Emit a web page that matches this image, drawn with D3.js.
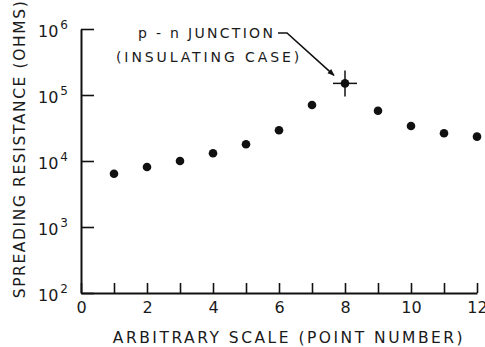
<!DOCTYPE html>
<html>
<head>
<meta charset="utf-8">
<script src="https://cdn.jsdelivr.net/npm/d3@7"></script>
<style>
  body { margin: 0; background: #fff; }
  text { font-family: "DejaVu Sans", sans-serif; fill: #1a1a1a; }
</style>
</head>
<body>
<script>
var width = 485, height = 347;

// du lieu doc tu hinh
var points = [1, 2, 3, 4, 5, 6, 7, 8, 9, 10, 11, 12];
var resistance = [6400, 8100, 10000, 13100, 17900, 29200, 70500, 150000, 57800, 33900, 26300, 23400];
var yTicks = [1e2, 1e3, 1e4, 1e5, 1e6];
var yExp = ["2", "3", "4", "5", "6"];
var xTicks = [0, 1, 2, 3, 4, 5, 6, 7, 8, 9, 10, 11, 12];
var junctionIndex = 7; // diem so 8

var svg = d3.select("body").append("svg")
    .attr("width", width)
    .attr("height", height);

var x = d3.scaleLinear().domain([0, 12]).range([81, 477]);
var y = d3.scaleLog().domain([1e2, 1e6]).range([293, 29]);

// truc y
var yAxis = svg.append("g")
    .attr("transform", "translate(81,0)")
    .call(d3.axisLeft(y).tickValues(yTicks).tickSizeInner(-13).tickSizeOuter(0).tickFormat(""));
yAxis.select(".domain").attr("stroke", "#111").attr("stroke-width", 2);
yAxis.selectAll(".tick line").attr("stroke", "#111").attr("stroke-width", 1.6);

yTicks.forEach(function(v, i) {
    var t = svg.append("text")
        .attr("x", 38)
        .attr("y", y(v) + 8)
        .style("font-size", "16px");
    t.append("tspan").text("10");
    t.append("tspan").attr("dx", 2).attr("dy", -8).style("font-size", "12px").text(yExp[i]);
});

// truc x
var xAxis = svg.append("g")
    .attr("transform", "translate(0,293)")
    .call(d3.axisBottom(x).tickValues(xTicks).tickSizeInner(-10).tickSizeOuter(0).tickPadding(9)
        .tickFormat(function(d) { return d % 2 ? "" : d; }));
xAxis.select(".domain").attr("stroke", "#111").attr("stroke-width", 2);
xAxis.selectAll(".tick line").attr("stroke", "#111").attr("stroke-width", 1.6);
xAxis.selectAll(".tick text")
    .style("font-size", "16px")
    .style("font-family", "DejaVu Sans, sans-serif")
    .attr("fill", "#1a1a1a");

// nhan truc
svg.append("text")
    .attr("x", 289)
    .attr("y", 343)
    .attr("text-anchor", "middle")
    .style("font-size", "15.5px")
    .style("letter-spacing", "2.5px")
    .text("ARBITRARY SCALE (POINT NUMBER)");

svg.append("text")
    .attr("transform", "translate(25,149) rotate(-90)")
    .attr("text-anchor", "middle")
    .style("font-size", "15.5px")
    .style("letter-spacing", "1.6px")
    .text("SPREADING RESISTANCE (OHMS)");

// diem du lieu
svg.append("g").selectAll("circle")
    .data(points)
    .enter().append("circle")
    .attr("cx", function(d) { return x(d); })
    .attr("cy", function(d, i) { return y(resistance[i]); })
    .attr("r", 4.3)
    .attr("fill", "#111");

// dau cong cho diem junction
var jx = x(points[junctionIndex]), jy = y(resistance[junctionIndex]);
svg.append("line").attr("x1", jx - 12).attr("x2", jx + 12).attr("y1", jy).attr("y2", jy)
    .attr("stroke", "#111").attr("stroke-width", 1.5);
svg.append("line").attr("x1", jx).attr("x2", jx).attr("y1", jy - 13).attr("y2", jy + 13)
    .attr("stroke", "#111").attr("stroke-width", 1.5);

// chu thich
svg.append("text")
    .attr("x", 138).attr("y", 38)
    .style("font-size", "14px")
    .style("letter-spacing", "2.3px")
    .text("p - n JUNCTION");
svg.append("text")
    .attr("x", 116).attr("y", 62)
    .style("font-size", "14px")
    .style("letter-spacing", "2.9px")
    .text("(INSULATING CASE)");

svg.append("defs").append("marker")
    .attr("id", "arrow")
    .attr("viewBox", "0 0 10 10")
    .attr("refX", 9).attr("refY", 5)
    .attr("markerWidth", 12).attr("markerHeight", 7)
    .attr("markerUnits", "userSpaceOnUse")
    .attr("orient", "auto")
    .append("path").attr("d", "M0,1 L10,5 L0,9 Z").attr("fill", "#111");

svg.append("path")
    .attr("d", "M278,33 L287,33 L" + (jx - 11) + "," + (jy - 8))
    .attr("fill", "none")
    .attr("stroke", "#111")
    .attr("stroke-width", 1.6)
    .attr("marker-end", "url(#arrow)");
</script>
</body>
</html>
